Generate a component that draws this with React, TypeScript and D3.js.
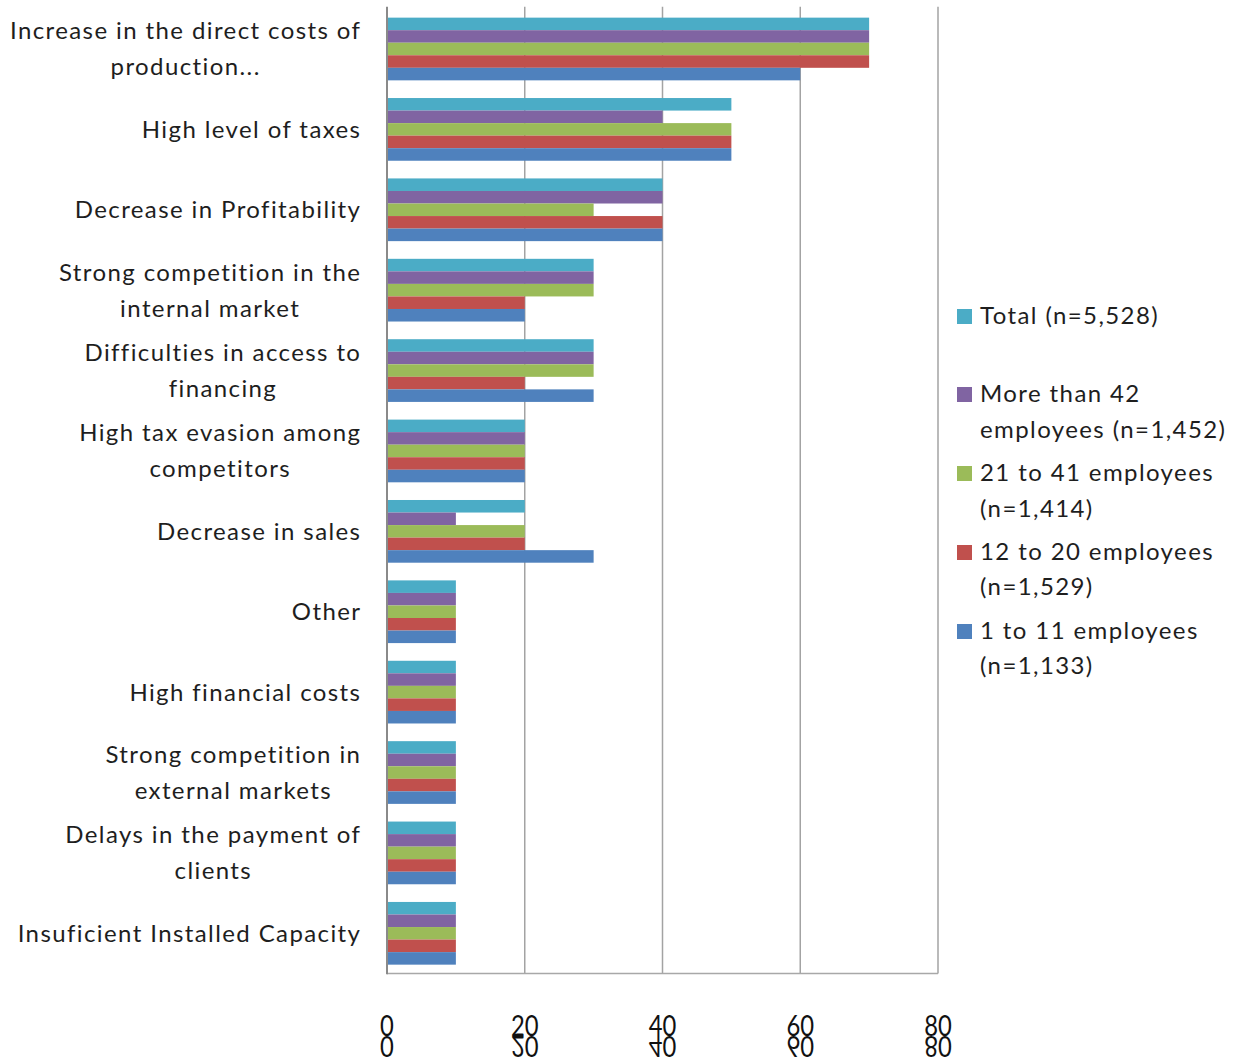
import React, { useEffect, useRef } from "react";
import * as d3 from "d3";

// Obstacles faced by firms, share of responses (%) by firm size
const categories: string[][] = [
  ["Increase in the direct costs of", "production..."],
  ["High level of taxes"],
  ["Decrease in Profitability"],
  ["Strong competition in the", "internal market"],
  ["Difficulties in access to", "financing"],
  ["High tax evasion among", "competitors"],
  ["Decrease in sales"],
  ["Other"],
  ["High financial costs"],
  ["Strong competition in", "external markets"],
  ["Delays in the payment of", "clients"],
  ["Insuficient Installed Capacity"],
];

const seriesNames: string[][] = [
  ["Total (n=5,528)"],
  ["More than 42", "employees (n=1,452)"],
  ["21 to 41 employees", "(n=1,414)"],
  ["12 to 20 employees", "(n=1,529)"],
  ["1 to 11 employees", "(n=1,133)"],
];

const seriesColors = ["#4BACC6", "#8064A2", "#9BBB59", "#C0504D", "#4F81BD"];

const total = [70, 50, 40, 30, 30, 20, 20, 10, 10, 10, 10, 10];
const moreThan42 = [70, 40, 40, 30, 30, 20, 10, 10, 10, 10, 10, 10];
const from21to41 = [70, 50, 30, 30, 30, 20, 20, 10, 10, 10, 10, 10];
const from12to20 = [70, 50, 40, 20, 20, 20, 20, 10, 10, 10, 10, 10];
const from1to11 = [60, 50, 40, 20, 30, 20, 30, 10, 10, 10, 10, 10];

const seriesValues = [total, moreThan42, from21to41, from12to20, from1to11];
const xTicks = [0, 20, 40, 60, 80];

const W = 1245;
const H = 1057;
const FONT = "Lato, 'Open Sans', sans-serif";
const SPACING = 1.4;

export default function App() {
  const ref = useRef<SVGSVGElement>(null);

  useEffect(() => {
    const svg = d3.select(ref.current);
    svg.selectAll("*").remove();

    const left = 387;
    const right = 938;
    const top = 8.8;
    const bottom = 973.5;

    const x = d3.scaleLinear().domain([0, 80]).range([left, right]);
    const y = d3
      .scaleBand<number>()
      .domain(d3.range(categories.length))
      .range([top, bottom])
      .paddingInner(0.22)
      .paddingOuter(0.11);
    const ySub = d3
      .scaleBand<number>()
      .domain(d3.range(seriesValues.length))
      .range([0, y.bandwidth()]);

    // vertical gridlines
    svg
      .append("g")
      .selectAll("line")
      .data(xTicks.slice(1))
      .join("line")
      .attr("x1", (d) => x(d))
      .attr("x2", (d) => x(d))
      .attr("y1", top - 2)
      .attr("y2", bottom)
      .attr("stroke", "#a3a3a3")
      .attr("stroke-width", 1.5);

    // bottom border
    svg
      .append("line")
      .attr("x1", left)
      .attr("x2", right)
      .attr("y1", bottom)
      .attr("y2", bottom)
      .attr("stroke", "#a8a8a8")
      .attr("stroke-width", 1.5);

    // bars
    const groups = svg
      .append("g")
      .selectAll("g")
      .data(categories.map((_, i) => i))
      .join("g")
      .attr("transform", (i) => `translate(0,${y(i)})`);

    groups
      .selectAll("rect")
      .data((i) => seriesValues.map((s, k) => ({ k, v: s[i] })))
      .join("rect")
      .attr("x", x(0))
      .attr("y", (d) => ySub(d.k)!)
      .attr("width", (d) => x(d.v) - x(0))
      .attr("height", ySub.bandwidth())
      .attr("fill", (d) => seriesColors[d.k]);

    // left axis line
    svg
      .append("line")
      .attr("x1", left)
      .attr("x2", left)
      .attr("y1", top - 2)
      .attr("y2", bottom + 0.75)
      .attr("stroke", "#8a8a8a")
      .attr("stroke-width", 2);

    // category labels: each block right-aligned, lines centred within it
    const labelRight = 360 + SPACING;
    const lineH = 36;
    categories.forEach((lines, i) => {
      const cy = y(i)! + y.bandwidth() / 2;
      const g = svg.append("g");
      const texts = lines.map((line, j) =>
        g
          .append("text")
          .attr("y", cy + (j - (lines.length - 1) / 2) * lineH)
          .attr("dy", "0.35em")
          .attr("text-anchor", "middle")
          .attr("font-family", FONT)
          .attr("font-size", 24)
          .attr("letter-spacing", SPACING)
          .attr("fill", "#1e1e1e")
          .text(line)
      );
      const maxW = d3.max(texts, (t) => (t.node() as SVGTextElement).getComputedTextLength()) ?? 0;
      texts.forEach((t) => t.attr("x", labelRight - maxW / 2));
    });

    // x tick labels with their reflection underneath
    const tickBase = 1036;
    xTicks.forEach((t) => {
      const g = svg.append("g").attr("transform", `translate(${x(t)},${tickBase})`);
      [1, -1].forEach((sy) => {
        g.append("text")
          .attr("transform", `scale(0.85,${sy})`)
          .attr("text-anchor", "middle")
          .attr("font-family", FONT)
          .attr("font-size", 28)
          .attr("fill", "#111")
          .text(String(t));
      });
    });

    // legend
    const legendRows = [
      [316],
      [394, 430],
      [473, 509],
      [552, 587],
      [631, 666],
    ];
    seriesNames.forEach((lines, k) => {
      const ys = legendRows[k];
      svg
        .append("rect")
        .attr("x", 957)
        .attr("y", ys[0] - 7)
        .attr("width", 15)
        .attr("height", 15)
        .attr("fill", seriesColors[k]);
      lines.forEach((line, j) => {
        svg
          .append("text")
          .attr("x", 980)
          .attr("y", ys[j])
          .attr("dy", "0.35em")
          .attr("font-family", FONT)
          .attr("font-size", 24)
          .attr("letter-spacing", SPACING)
          .attr("fill", "#1e1e1e")
          .text(line);
      });
    });
  }, []);

  return (
    <svg
      ref={ref}
      width={W}
      height={H}
      style={{ position: "absolute", left: 0, top: 0, background: "#fff" }}
    />
  );
}
